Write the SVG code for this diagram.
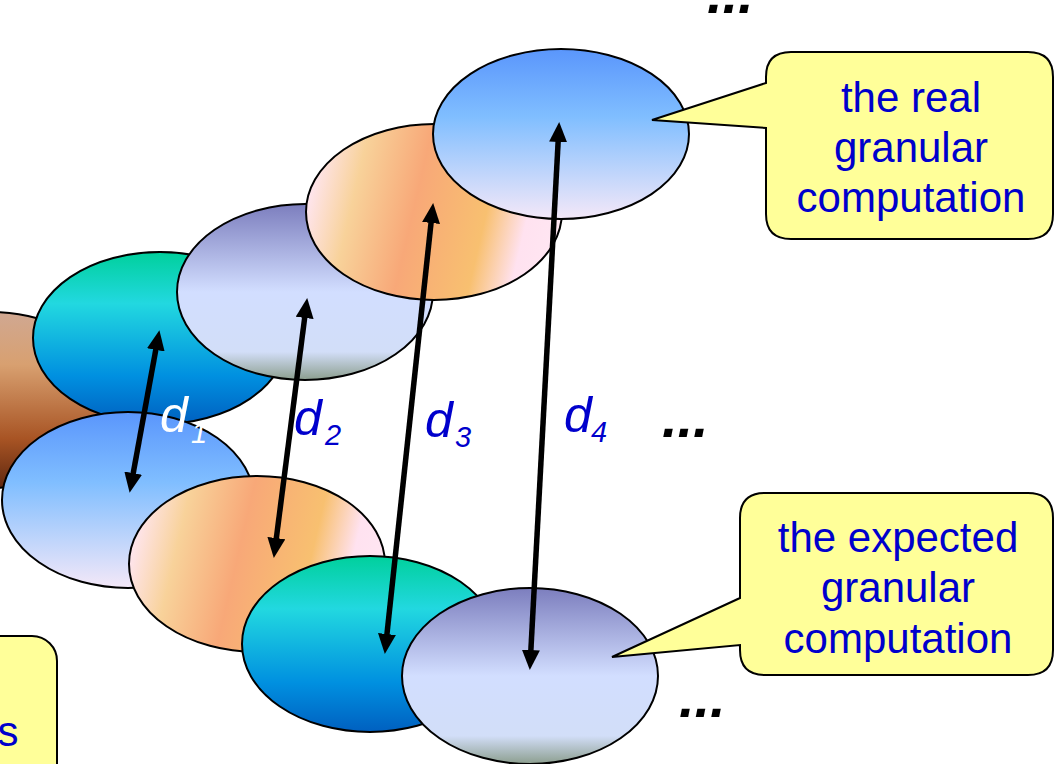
<svg xmlns="http://www.w3.org/2000/svg" width="1054" height="764" viewBox="0 0 1054 764">
<defs>
<linearGradient id="gBrown" x1="0" y1="0" x2="0" y2="1">
<stop offset="0" stop-color="#D0A892"/><stop offset="0.3" stop-color="#D8A070"/><stop offset="0.72" stop-color="#A85424"/><stop offset="1" stop-color="#602810"/>
</linearGradient>
<linearGradient id="gGreen" x1="0" y1="0" x2="0" y2="1">
<stop offset="0" stop-color="#00D09C"/><stop offset="0.3" stop-color="#22D8E0"/><stop offset="0.72" stop-color="#0090E0"/><stop offset="1" stop-color="#0060C0"/>
</linearGradient>
<linearGradient id="gLav" x1="0" y1="0" x2="0" y2="1">
<stop offset="0" stop-color="#7C7EBE"/><stop offset="0.5" stop-color="#D2DEFF"/><stop offset="0.84" stop-color="#D2DEF8"/><stop offset="1" stop-color="#8C9E8E"/>
</linearGradient>
<linearGradient id="gOrange" x1="0" y1="0.42" x2="1" y2="0.58">
<stop offset="0" stop-color="#FFE6F2"/><stop offset="0.18" stop-color="#F8D29A"/><stop offset="0.42" stop-color="#F8A878"/><stop offset="0.7" stop-color="#F8C070"/><stop offset="0.86" stop-color="#FFE2F0"/><stop offset="1" stop-color="#FFE6F2"/>
</linearGradient>
<linearGradient id="gBlue" x1="0" y1="0" x2="0" y2="1">
<stop offset="0" stop-color="#5A96FC"/><stop offset="0.4" stop-color="#80BEFF"/><stop offset="1" stop-color="#F4E8F8"/>
</linearGradient>
<marker id="ah" viewBox="0 0 20 18" refX="9" refY="9" markerWidth="20" markerHeight="18" markerUnits="userSpaceOnUse" orient="auto-start-reverse">
<path d="M0,0 L20,9 L0,18 z" fill="#000"/>
</marker>
<style>
.el{stroke:#000;stroke-width:2}
.arrow{stroke:#000;stroke-width:5.5;fill:none;marker-start:url(#ah);marker-end:url(#ah)}
.call{fill:#FFFF99;stroke:#000;stroke-width:2}
.ct{font-family:"Liberation Sans",Arial,sans-serif;font-size:42px;fill:#0000CC;text-anchor:middle}
.dl{font-family:"Liberation Sans",Arial,sans-serif;font-style:italic;font-size:50px;fill:#0000CC}
.sub{font-size:29px}
.dots{font-family:"Liberation Sans",Arial,sans-serif;font-style:italic;font-weight:bold;font-size:56px;fill:#000}
</style>
</defs>
<rect width="1054" height="764" fill="#fff"/>

<g id="brown"><ellipse class="el" cx="-10" cy="400" rx="128" ry="88" fill="url(#gBrown)"/></g>
<g id="top-green"><ellipse class="el" cx="160" cy="338" rx="127" ry="86" fill="url(#gGreen)"/></g>
<g id="top-lavender"><ellipse class="el" cx="305" cy="292" rx="128" ry="88" fill="url(#gLav)"/></g>
<g id="top-orange"><ellipse class="el" cx="434" cy="212" rx="128" ry="88" fill="url(#gOrange)"/></g>
<g id="top-blue"><ellipse class="el" cx="561" cy="134" rx="128" ry="85" fill="url(#gBlue)"/></g>

<g id="bot-blue"><ellipse class="el" cx="128" cy="500" rx="126" ry="88" fill="url(#gBlue)"/></g>
<g id="bot-orange"><ellipse class="el" cx="257" cy="564" rx="128" ry="88" fill="url(#gOrange)"/></g>
<g id="bot-green"><ellipse class="el" cx="370" cy="644" rx="128" ry="88" fill="url(#gGreen)"/></g>
<g id="bot-lavender"><ellipse class="el" cx="530" cy="676" rx="128" ry="88" fill="url(#gLav)"/></g>

<g id="connectors">
<line class="arrow" x1="157.4" y1="341" x2="131.6" y2="482"/>
<line class="arrow" x1="305.8" y1="309" x2="275.2" y2="547"/>
<line class="arrow" x1="432" y1="214" x2="386" y2="643"/>
<line class="arrow" x1="558.6" y1="133" x2="530.4" y2="659"/>
</g>

<g id="labels">
<text class="dl" x="160" y="432" style="fill:#fff">d<tspan class="sub" x="191" y="443">1</tspan></text>
<text class="dl" x="294" y="435">d<tspan class="sub" x="325" y="445">2</tspan></text>
<text class="dl" x="425" y="437">d<tspan class="sub" x="455" y="447">3</tspan></text>
<text class="dl" x="564" y="432">d<tspan class="sub" x="591" y="442">4</tspan></text>
</g>

<g id="ellipses-dots">
<text class="dots" x="707" y="13">...</text>
<text class="dots" x="662" y="437">...</text>
<text class="dots" x="679" y="717">...</text>
</g>

<g id="callout-real">
<path class="call" d="M791,52 H1028 Q1053,52 1053,77 V214 Q1053,239 1028,239 H791 Q766,239 766,214 V128 L652,120 L766,83 V77 Q766,52 791,52 Z"/>
<text class="ct" x="911" y="112">the real</text>
<text class="ct" x="911" y="162">granular</text>
<text class="ct" x="911" y="212">computation</text>
</g>

<g id="callout-expected">
<path class="call" d="M765,493 H1028 Q1053,493 1053,518 V650 Q1053,675 1028,675 H765 Q740,675 740,650 V645 L612,657 L740,598 V518 Q740,493 765,493 Z"/>
<text class="ct" x="898" y="552">the expected</text>
<text class="ct" x="898" y="602">granular</text>
<text class="ct" x="898" y="653">computation</text>
</g>

<g id="callout-left">
<rect class="call" x="-60" y="636" width="117" height="170" rx="25" ry="25"/>
<text class="ct" x="8" y="746">s</text>
</g>
</svg>
